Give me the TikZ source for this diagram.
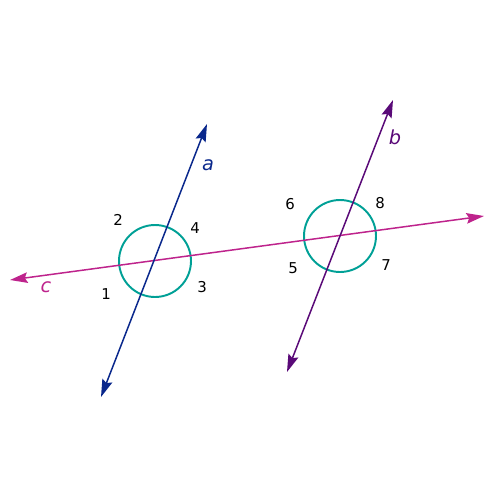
\documentclass[tikz,border=0pt]{standalone}
\usepackage{fontspec}
\setmainfont{DejaVu Sans}
\usepackage{xcolor}
\usetikzlibrary{arrows.meta, calc}

\definecolor{lineA}{RGB}{10,40,140}
\definecolor{lineB}{RGB}{90,10,120}
\definecolor{lineC}{RGB}{190,35,140}
\definecolor{ringcol}{RGB}{0,160,150}

\begin{document}
\begin{tikzpicture}[
    x=0.02cm, y=-0.02cm,
    transversal/.style={line width=0.85pt, {Stealth[length=10pt,width=6pt,inset=1.5pt]}-{Stealth[length=10pt,width=6pt,inset=1.5pt]}},
    ring/.style={draw=ringcol, line width=1.1pt, circle, minimum size=1.44cm, inner sep=0pt},
    angle/.style={font=\fontsize{8.5}{10}\selectfont, text=black, inner sep=1pt},
    linename/.style={font=\fontsize{11}{12}\selectfont\itshape, inner sep=1pt}
]
    \useasboundingbox (0,0) rectangle (500,500);

    % ================= END POINTS =================
    \coordinate (c_left) at (10,280);
    \coordinate (c_right) at (484,216);
    \coordinate (a_bot) at (101,397);
    \coordinate (a_top) at (207,124);
    \coordinate (b_bot) at (287,372);
    \coordinate (b_top) at (393,100);

    % ================= CIRCLES =================
    \node[ring] (O1) at (155,261) {};
    \node[ring] (O2) at (340,236) {};

    % ================= LINES =================
    \draw[transversal, lineC] (c_left) -- (c_right);
    \draw[transversal, lineA] (a_bot) -- (a_top);
    \draw[transversal, lineB] (b_bot) -- (b_top);

    % ================= LINE NAMES =================
    \node[linename, text=lineA] (name_a) at (208,165) {a};
    \node[linename, text=lineB] (name_b) at (395,137) {b};
    \node[linename, text=lineC] (name_c) at (46,287) {c};

    % ================= ANGLE NUMBERS =================
    \node[angle] (n1) at (106,294) {1};
    \node[angle] (n2) at (118,220) {2};
    \node[angle] (n3) at (202,287) {3};
    \node[angle] (n4) at (195,228) {4};
    \node[angle] (n5) at (293,268) {5};
    \node[angle] (n6) at (290,204) {6};
    \node[angle] (n7) at (386,265) {7};
    \node[angle] (n8) at (380,203) {8};

\end{tikzpicture}
\end{document}
